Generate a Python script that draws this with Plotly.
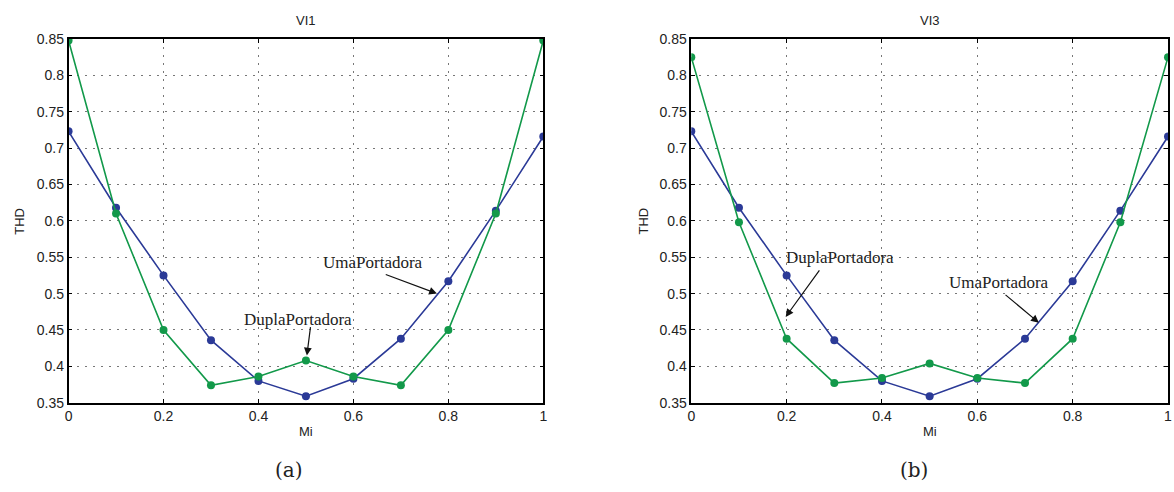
import plotly.graph_objects as go

mi = [0, 0.1, 0.2, 0.3, 0.4, 0.5, 0.6, 0.7, 0.8, 0.9, 1.0]
uma_vi1 = [0.723, 0.618, 0.525, 0.436, 0.380, 0.359, 0.383, 0.438, 0.517, 0.614, 0.716]
dupla_vi1 = [0.848, 0.610, 0.450, 0.374, 0.386, 0.408, 0.386, 0.374, 0.450, 0.610, 0.848]
uma_vi3 = [0.723, 0.618, 0.525, 0.436, 0.380, 0.359, 0.383, 0.438, 0.517, 0.614, 0.716]
dupla_vi3 = [0.825, 0.598, 0.438, 0.377, 0.384, 0.404, 0.384, 0.377, 0.438, 0.598, 0.825]
xticks = [0, 0.2, 0.4, 0.6, 0.8, 1]
yticks = [0.35, 0.4, 0.45, 0.5, 0.55, 0.6, 0.65, 0.7, 0.75, 0.8, 0.85]

BLUE = "#2b3a97"
GREEN = "#12994a"
W, H = 1174, 492

fig = go.Figure()

def add_series(y, color, xa, ya):
    fig.add_trace(go.Scatter(x=mi, y=y, mode="lines+markers", xaxis=xa, yaxis=ya,
                             line=dict(color=color, width=1.6),
                             marker=dict(color=color, size=8), showlegend=False))

add_series(uma_vi1, BLUE, "x", "y")
add_series(dupla_vi1, GREEN, "x", "y")
add_series(uma_vi3, BLUE, "x2", "y2")
add_series(dupla_vi3, GREEN, "x2", "y2")

tick_font = dict(family="Liberation Sans, Arial", size=14, color="#222")
axis_common = dict(showline=True, linecolor="black", linewidth=1.5, mirror="ticks",
                   ticks="inside", ticklen=4, tickcolor="black",
                   showgrid=True, gridcolor="#777", griddash="2px,6px", gridwidth=1,
                   zeroline=False, tickfont=tick_font)

xtext = ["0", "0.2", "0.4", "0.6", "0.8", "1"]
ytext = [f"{v:g}" for v in yticks]
yd = [1 - 408 / H, 1 - 32 / H]
fig.update_layout(
    width=W, height=H, plot_bgcolor="white", paper_bgcolor="white",
    margin=dict(l=0, r=0, t=0, b=0),
    xaxis=dict(domain=[65 / W, 543 / W], range=[0, 1], tickvals=xticks, ticktext=xtext,
               anchor="y", **axis_common),
    yaxis=dict(domain=yd, range=[0.35, 0.85], tickvals=yticks, ticktext=ytext,
               anchor="x", **axis_common),
    xaxis2=dict(domain=[692 / W, 1172 / W], range=[0, 1], tickvals=xticks, ticktext=xtext,
                anchor="y2", **axis_common),
    yaxis2=dict(domain=yd, range=[0.35, 0.85], tickvals=yticks, ticktext=ytext,
                anchor="x2", **axis_common),
)

lab_font = dict(family="Liberation Sans, Arial", size=13, color="#222")
serif = dict(family="Liberation Serif, Times New Roman, serif", size=17, color="#222")
cap_font = dict(family="DejaVu Serif, Liberation Serif, serif", size=20, color="#222")

ann = []

def ptext(px, py, t, font, angle=0):
    ann.append(dict(x=px / W, y=1 - py / H, xref="paper", yref="paper", text=t,
                    xanchor="center", yanchor="middle", textangle=angle,
                    showarrow=False, font=font))

ptext(304, 13, "VI1", lab_font)
ptext(932, 13, "VI3", lab_font)
ptext(304, 438, "Mi", lab_font)
ptext(932, 438, "Mi", lab_font)
ptext(16, 220, "THD", lab_font, -90)
ptext(644, 220, "THD", lab_font, -90)
ptext(287, 478, "(a)", cap_font)
ptext(916, 478, "(b)", cap_font)

def arrow(xr, yr, x, y, ax, ay):
    ann.append(dict(x=x, y=y, ax=ax, ay=ay, xref=xr, yref=yr, axref=xr, ayref=yr, text="",
                    showarrow=True, arrowhead=2, arrowsize=1.3, arrowwidth=1.2, arrowcolor="#111"))

def label(xr, yr, x, y, t):
    ann.append(dict(x=x, y=y, xref=xr, yref=yr, text=t, xanchor="center", yanchor="middle",
                    showarrow=False, font=serif))

label("x", "y", 0.642, 0.543, "UmaPortadora")
arrow("x", "y", 0.776, 0.500, 0.665, 0.527)
label("x", "y", 0.483, 0.464, "DuplaPortadora")
arrow("x", "y", 0.502, 0.415, 0.510, 0.456)
label("x2", "y2", 0.3125, 0.5495, "DuplaPortadora")
arrow("x2", "y2", 0.198, 0.468, 0.271, 0.534)
label("x2", "y2", 0.646, 0.515, "UmaPortadora")
arrow("x2", "y2", 0.729, 0.460, 0.656, 0.500)

fig.update_layout(annotations=ann)
fig.write_html("out.html")
